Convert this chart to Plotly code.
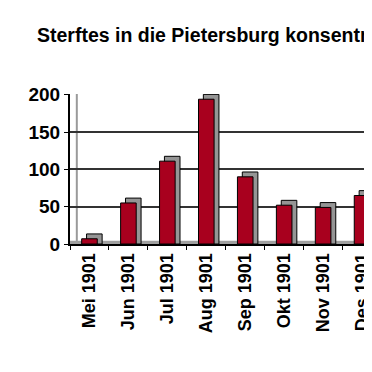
import plotly.graph_objects as go

months = ["Mei 1901", "Jun 1901", "Jul 1901", "Aug 1901", "Sep 1901", "Okt 1901", "Nov 1901", "Des 1901"]
deaths = [7, 55, 111, 194, 90, 52, 49, 65]
y_ticks = [0, 50, 100, 150, 200]
title_text = "Sterftes in die Pietersburg konsentrasiekamp"

depth = 6.5  # 3D depth in data units for the side/top faces
shadow = [v + depth for v in deaths]

W = 364  # page body has an 8px margin; figure fills the rest of the 372px window
H = 364

fig = go.Figure()
fig.add_trace(go.Bar(
    x=months, y=shadow, width=0.4, offset=-0.075,
    marker=dict(color="#959595", line=dict(color="black", width=1)),
    hoverinfo="skip", showlegend=False,
))
fig.add_trace(go.Bar(
    x=months, y=deaths, width=0.4, offset=-0.2,
    marker=dict(color="#A8001E", line=dict(color="black", width=1)),
    showlegend=False,
))

fig.update_layout(
    width=W, height=H,
    margin=dict(l=62, r=0, t=86, b=128),
    paper_bgcolor="white", plot_bgcolor="white",
    barmode="overlay",
    title=dict(text=title_text, x=29/W, xref="container", xanchor="left",
               y=1 - 27/H, yanchor="middle",
               font=dict(family="Arial", size=19.5, color="black", weight="bold")),
    font=dict(family="Arial", color="black"),
    shapes=[
        dict(type="rect", xref="paper", yref="y", x0=0, x1=1, y0=0, y1=4.5,
             fillcolor="#a0a0a0", line=dict(width=0), layer="below"),
        dict(type="line", xref="paper", yref="paper", x0=7/302, x1=7/302, y0=0.02, y1=1,
             line=dict(color="#9a9a9a", width=2), layer="below"),
    ],
)
fig.update_xaxes(
    range=[-0.5, 7.05], tickangle=-90, showline=True, linecolor="black", linewidth=2,
    ticks="outside", tickson="boundaries", ticklen=4, tickcolor="black",
    tickfont=dict(family="Arial", size=18, color="black", weight="bold"),
    showgrid=False, fixedrange=True,
)
fig.update_yaxes(
    range=[0, 201], tickvals=y_ticks, showline=True, linecolor="black", linewidth=2,
    ticks="outside", ticklen=4, tickcolor="black",
    tickfont=dict(family="Arial", size=19, color="black", weight="bold"),
    showgrid=True, gridcolor="#333333", gridwidth=1.5, zeroline=False, fixedrange=True,
)

fig.write_html("out.html", config={"displayModeBar": False})
